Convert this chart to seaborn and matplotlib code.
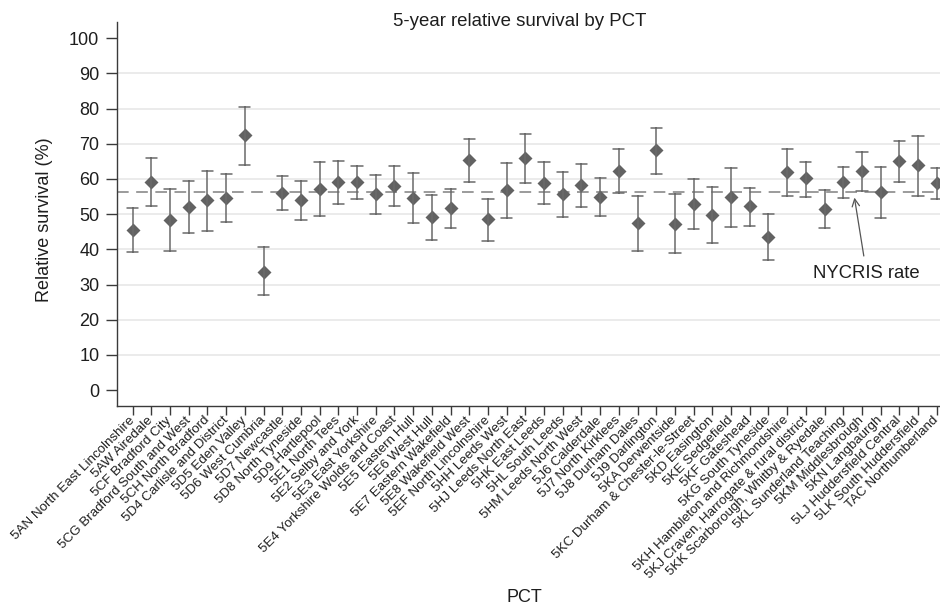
import numpy as np
import pandas as pd
import matplotlib
matplotlib.use("Agg")
import matplotlib.pyplot as plt
import seaborn as sns

pct_labels = [
    "5AN North East Lincolnshire", "5AW Airedale", "5CF Bradford City",
    "5CG Bradford South and West", "5CH North Bradford", "5D4 Carlisle and District",
    "5D5 Eden Valley", "5D6 West Cumbria", "5D7 Newcastle", "5D8 North Tyneside",
    "5D9 Hartlepool", "5E1 North Tees", "5E2 Selby and York", "5E3 East Yorkshire",
    "5E4 Yorkshire Wolds and Coast", "5E5 Eastern Hull", "5E6 West Hull",
    "5E7 Eastern Wakefield", "5E8 Wakefield West", "5EF North Lincolnshire",
    "5HH Leeds West", "5HJ Leeds North East", "5HK East Leeds", "5HL South Leeds",
    "5HM Leeds North West", "5J6 Calderdale", "5J7 North Kirklees", "5J8 Durham Dales",
    "5J9 Darlington", "5KA Derwentside", "5KC Durham & Chester-le-Street",
    "5KD Easington", "5KE Sedgefield", "5KF Gateshead", "5KG South Tyneside",
    "5KH Hambleton and Richmondshire", "5KJ Craven, Harrogate & rural district",
    "5KK Scarborough, Whitby & Ryedale", "5KL Sunderland Teaching",
    "5KM Middlesbrough", "5KN Langbaurgh", "5LJ Huddersfield Central",
    "5LK South Huddersfield", "TAC Northumberland",
]
survival = [45.5, 59.2, 48.3, 52.1, 54.0, 54.7, 72.4, 33.6, 55.9, 54.0,
            57.2, 59.1, 59.1, 55.6, 58.0, 54.7, 49.1, 51.8, 65.4, 48.5,
            56.9, 65.9, 58.8, 55.6, 58.3, 54.8, 62.4, 47.6, 68.2, 47.2,
            53.0, 49.8, 55.0, 52.2, 43.4, 62.0, 60.2, 51.4, 59.2, 62.3,
            56.4, 65.1, 64.0, 58.8]
ci_lower = [39.2, 52.3, 39.6, 44.7, 45.3, 47.8, 64.0, 27.0, 51.1, 48.3,
            49.4, 52.9, 54.3, 50.0, 52.3, 47.4, 42.7, 46.2, 59.1, 42.5,
            48.9, 59.0, 52.8, 49.1, 51.9, 49.6, 56.1, 39.6, 61.5, 39.0,
            45.8, 41.8, 46.4, 46.7, 37.1, 55.3, 55.0, 46.2, 54.5, 56.7,
            49.0, 59.1, 55.2, 54.3]
ci_upper = [51.8, 66.1, 57.1, 59.3, 62.4, 61.5, 80.4, 40.6, 60.9, 59.5,
            64.9, 65.1, 63.7, 61.0, 63.7, 61.6, 55.5, 57.2, 71.4, 54.3,
            64.6, 72.8, 64.8, 62.1, 64.4, 60.2, 68.5, 55.3, 74.6, 55.6,
            60.1, 57.8, 63.2, 57.5, 50.0, 68.6, 64.9, 56.9, 63.5, 67.7,
            63.5, 70.7, 72.1, 63.2]
nycris_rate = 56.4
y_ticks = list(range(0, 101, 10))

# long table: lower / estimate / upper per PCT -> median = estimate, 100% interval = CI
df = pd.DataFrame({
    "PCT": pct_labels * 3,
    "value": ci_lower + survival + ci_upper,
})

sns.set_style("white")
plt.rcParams["font.family"] = ["Liberation Sans", "DejaVu Sans"]
text_col = "#1e1e1e"
spine_col = "#3a3a3a"

fig = plt.figure(figsize=(9.40, 6.11), dpi=100)
ax = fig.add_axes([116.7 / 940, (611 - 405.7) / 611, (940 - 116.7) / 940, (405.7 - 22.3) / 611])

sns.pointplot(data=df, x="PCT", y="value", order=pct_labels,
              estimator="median", errorbar=("pi", 100),
              markers="D", linestyles="none", color="#626262",
              markersize=5.6, capsize=0.6,
              err_kws={"linewidth": 1.1, "color": "#6a6a6a"}, ax=ax)

ax.axhline(nycris_rate, color="#8a8a8a", lw=1.2, linestyle=(0, (7, 4.5)), zorder=1)

ax.set_xlim(-(132.7 - 116.7) / 18.7, len(pct_labels) - 1 + 3.3 / 18.7)
ax.set_ylim(-4.46, 104.55)
ax.set_yticks(y_ticks)
ax.set_yticklabels([str(t) for t in y_ticks])

ax.grid(axis="y", color="#e6e6e6", lw=1.1)
ax.set_axisbelow(True)
for gl, t in zip(ax.get_ygridlines(), y_ticks):
    if t in (0, 100):
        gl.set_visible(False)

for s in ["top", "right"]:
    ax.spines[s].set_visible(False)
for s in ["left", "bottom"]:
    ax.spines[s].set_color(spine_col)
    ax.spines[s].set_linewidth(1.0)

ax.tick_params(axis="y", direction="out", length=7.7, width=1.0, color=spine_col,
               labelsize=13, labelcolor=text_col, pad=4.8, left=True)
ax.tick_params(axis="x", direction="out", length=6.7, width=1.0, color=spine_col,
               labelsize=9.6, labelcolor=text_col, pad=2.5, bottom=True)
plt.setp(ax.get_xticklabels(), rotation=45, ha="right", va="center",
         rotation_mode="anchor")

ax.set_ylabel("Relative survival (%)", fontsize=13, color=text_col)
ax.yaxis.label.set_va("center")
ax.yaxis.set_label_coords((45 - 116.7) / 823.3, (405.7 - 220) / 383.4)
ax.set_xlabel("PCT", fontsize=13, color=text_col)
ax.xaxis.label.set_va("center")
ax.xaxis.set_label_coords((524 - 116.7) / 823.3, (405.7 - 597) / 383.4)

fig.text(520 / 940, 1 - 22 / 611, "5-year relative survival by PCT",
         fontsize=13.4, color=text_col, ha="center", va="center")

ax.annotate("NYCRIS rate", xy=(38.6, 54.7), xytext=(39.25, 33.2),
            fontsize=13.3, color=text_col, ha="center", va="center",
            arrowprops=dict(arrowstyle="->", color="#555555", lw=0.9,
                            shrinkA=4, shrinkB=0))

fig.savefig("out.png", dpi=100)
